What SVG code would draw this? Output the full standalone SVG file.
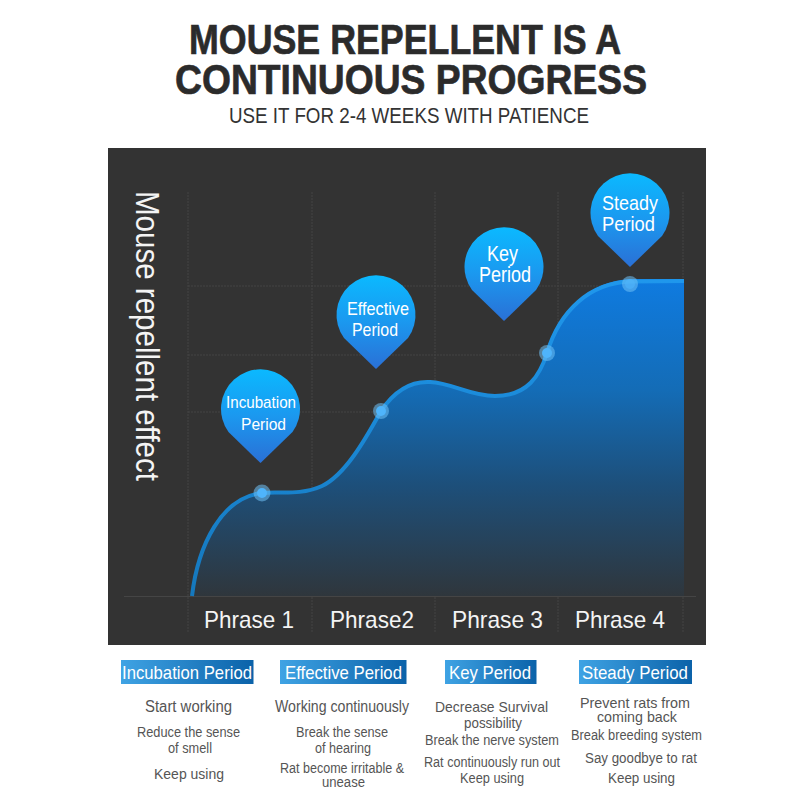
<svg xmlns="http://www.w3.org/2000/svg" width="800" height="800" viewBox="0 0 800 800">
<style>
text{font-family:"Liberation Sans",Arial,sans-serif}
.title{font-size:43px;font-weight:bold;fill:#2b2b2b;stroke:#2b2b2b;stroke-width:.7px}
.sub{font-size:22px;fill:#333}
.axis{font-size:34px;fill:#f4f4f4}
.phase{font-size:24px;fill:#f4f4f4}
.pin{font-size:19px;fill:#fff}
.head{font-size:19px;fill:#fff}
.a{font-size:16px;fill:#555}
.b{font-size:14px;fill:#555}
.grid{stroke:#454545;stroke-width:1;fill:none;stroke-dasharray:2 1}
.halo{fill:#6fc1f5;opacity:.55}
.dot{fill:#4fb4fb}
.bubble{fill:url(#pinGrad)}
</style>
<defs>
<linearGradient id="pinGrad" x1="0" y1="0" x2="0" y2="1">
<stop offset="0" stop-color="#0bb9ff"/><stop offset=".5" stop-color="#1b98ef"/><stop offset="1" stop-color="#2a70d6"/>
</linearGradient>
<linearGradient id="area" gradientUnits="userSpaceOnUse" x1="0" y1="280" x2="0" y2="596">
<stop offset="0" stop-color="#0f7be0"/><stop offset=".35" stop-color="#146cb6"/><stop offset=".65" stop-color="#1d4f7a"/><stop offset="1" stop-color="#2f363c"/>
</linearGradient>
<linearGradient id="lineGrad" gradientUnits="userSpaceOnUse" x1="0" y1="280" x2="0" y2="596">
<stop offset="0" stop-color="#1f97ec"/><stop offset="1" stop-color="#1578bd"/>
</linearGradient>
<linearGradient id="headGrad" x1="0" y1="0" x2="1" y2="0">
<stop offset="0" stop-color="#3fa3e4"/><stop offset="1" stop-color="#0b62a9"/>
</linearGradient>
<path id="pinShape" d="M0,54 L-32,23 A39.500,39.500 0 1 1 32,23 Z"/>
</defs>
<rect width="800" height="800" fill="#fff"/>
<g id="heading">
<text class="title" x="189" y="54" textLength="432" lengthAdjust="spacingAndGlyphs">MOUSE REPELLENT IS A</text>
<text class="title" x="175" y="94" textLength="472" lengthAdjust="spacingAndGlyphs">CONTINUOUS PROGRESS</text>
<text class="sub" x="229" y="123" textLength="360" lengthAdjust="spacingAndGlyphs">USE IT FOR 2-4 WEEKS WITH PATIENCE</text>
</g>
<g id="panel">
<rect x="108" y="148" width="598" height="497" fill="#333"/>
<path class="grid" d="M188,192V632M312,192V632M435,192V632M558,192V632M683,192V632M188,286H683M188,355H683M188,412H683"/>
<path d="M124,596.500H696" stroke="#454545" fill="none"/>
<text class="axis" transform="translate(136,191) rotate(90)" textLength="290" lengthAdjust="spacingAndGlyphs">Mouse repellent effect</text>
</g>
<g id="connectors">
<path d="M192,596 C198,545 222,497 262,493 C278,491 300,496 322,486 C345,475 365,440 381,411 C395,390 412,381 430,382 C452,383 470,396 495,396 C528,396 540,375 547,353 C560,310 590,281 630,279 L684,279 V596 H192 Z" fill="url(#area)"/>
<path d="M192,596 C198,545 222,497 262,493 C278,491 300,496 322,486 C345,475 365,440 381,411 C395,390 412,381 430,382 C452,383 470,396 495,396 C528,396 540,375 547,353 C560,310 590,283 630,281.500 L684,281" fill="none" stroke="url(#lineGrad)" stroke-width="4"/>
</g>
<g id="node-incubation">
<use href="#pinShape" x="260.500" y="409" class="bubble"/>
<circle class="halo" cx="262" cy="493" r="8.500"/><circle class="dot" cx="262" cy="493" r="5"/>
<text class="pin" x="226" y="408" textLength="70" lengthAdjust="spacingAndGlyphs" style="font-size:17px">Incubation</text>
<text class="pin" x="241" y="430" textLength="45" lengthAdjust="spacingAndGlyphs" style="font-size:17px">Period</text>
</g>
<g id="node-effective">
<use href="#pinShape" x="376" y="315" class="bubble"/>
<circle class="halo" cx="381" cy="411" r="8"/><circle class="dot" cx="381" cy="411" r="5"/>
<text class="pin" x="347" y="315" textLength="62" lengthAdjust="spacingAndGlyphs">Effective</text>
<text class="pin" x="352" y="336" textLength="46" lengthAdjust="spacingAndGlyphs">Period</text>
</g>
<g id="node-key">
<use href="#pinShape" x="504" y="267" class="bubble"/>
<circle class="halo" cx="547" cy="353" r="8"/><circle class="dot" cx="547" cy="353" r="5"/>
<text class="pin" x="487" y="261" textLength="31" lengthAdjust="spacingAndGlyphs" style="font-size:22px">Key</text>
<text class="pin" x="479" y="282" textLength="52" lengthAdjust="spacingAndGlyphs" style="font-size:22px">Period</text>
</g>
<g id="node-steady">
<use href="#pinShape" x="630" y="213" class="bubble"/>
<circle class="halo" cx="630" cy="284" r="8"/><circle class="dot" cx="630" cy="284" r="5" style="opacity:.6"/>
<text class="pin" x="602" y="210" textLength="56" lengthAdjust="spacingAndGlyphs" style="font-size:21px">Steady</text>
<text class="pin" x="602" y="231" textLength="53" lengthAdjust="spacingAndGlyphs" style="font-size:21px">Period</text>
</g>
<g id="phases">
<text class="phase" x="204" y="628" textLength="90" lengthAdjust="spacingAndGlyphs">Phrase 1</text>
<text class="phase" x="330" y="628" textLength="84" lengthAdjust="spacingAndGlyphs">Phrase2</text>
<text class="phase" x="452" y="628" textLength="91" lengthAdjust="spacingAndGlyphs">Phrase 3</text>
<text class="phase" x="575" y="628" textLength="90" lengthAdjust="spacingAndGlyphs">Phrase 4</text>
</g>
<g id="legend-incubation">
<rect x="121" y="660" width="132.500" height="24" fill="url(#headGrad)"/>
<text class="head" x="122" y="679" textLength="130" lengthAdjust="spacingAndGlyphs">Incubation Period</text>
<text class="a" x="145" y="712" textLength="87" lengthAdjust="spacingAndGlyphs">Start working</text>
<text class="b" x="137" y="737" textLength="103" lengthAdjust="spacingAndGlyphs">Reduce the sense</text>
<text class="b" x="168" y="753" textLength="44" lengthAdjust="spacingAndGlyphs">of smell</text>
<text class="b" x="154" y="779" textLength="70" lengthAdjust="spacingAndGlyphs">Keep using</text>
</g>
<g id="legend-effective">
<rect x="280" y="660" width="126.500" height="24" fill="url(#headGrad)"/>
<text class="head" x="285" y="679" textLength="117" lengthAdjust="spacingAndGlyphs">Effective Period</text>
<text class="a" x="275" y="712" textLength="134" lengthAdjust="spacingAndGlyphs">Working continuously</text>
<text class="b" x="296" y="737" textLength="92" lengthAdjust="spacingAndGlyphs">Break the sense</text>
<text class="b" x="315" y="753" textLength="56" lengthAdjust="spacingAndGlyphs">of hearing</text>
<text class="b" x="280" y="773" textLength="124" lengthAdjust="spacingAndGlyphs">Rat become irritable &amp;</text>
<text class="b" x="322" y="787" textLength="43" lengthAdjust="spacingAndGlyphs">unease</text>
</g>
<g id="legend-key">
<rect x="445" y="660" width="91.500" height="24" fill="url(#headGrad)"/>
<text class="head" x="449" y="679" textLength="82" lengthAdjust="spacingAndGlyphs">Key Period</text>
<text class="a" x="435" y="712" textLength="113" lengthAdjust="spacingAndGlyphs" style="font-size:15px">Decrease Survival</text>
<text class="b" x="464" y="728" textLength="58" lengthAdjust="spacingAndGlyphs">possibility</text>
<text class="b" x="425" y="745" textLength="134" lengthAdjust="spacingAndGlyphs">Break the nerve system</text>
<text class="b" x="424" y="767" textLength="136" lengthAdjust="spacingAndGlyphs">Rat continuously run out</text>
<text class="b" x="460" y="783" textLength="64" lengthAdjust="spacingAndGlyphs">Keep using</text>
</g>
<g id="legend-steady">
<rect x="579" y="660" width="113" height="24" fill="url(#headGrad)"/>
<text class="head" x="582" y="679" textLength="106" lengthAdjust="spacingAndGlyphs">Steady Period</text>
<text class="a" x="580" y="708" textLength="110" lengthAdjust="spacingAndGlyphs" style="font-size:15px">Prevent rats from</text>
<text class="a" x="597" y="722" textLength="80" lengthAdjust="spacingAndGlyphs" style="font-size:15px">coming back</text>
<text class="b" x="571" y="740" textLength="131" lengthAdjust="spacingAndGlyphs">Break breeding system</text>
<text class="b" x="585" y="763" textLength="112" lengthAdjust="spacingAndGlyphs">Say goodbye to rat</text>
<text class="b" x="608" y="783" textLength="67" lengthAdjust="spacingAndGlyphs">Keep using</text>
</g>
</svg>
